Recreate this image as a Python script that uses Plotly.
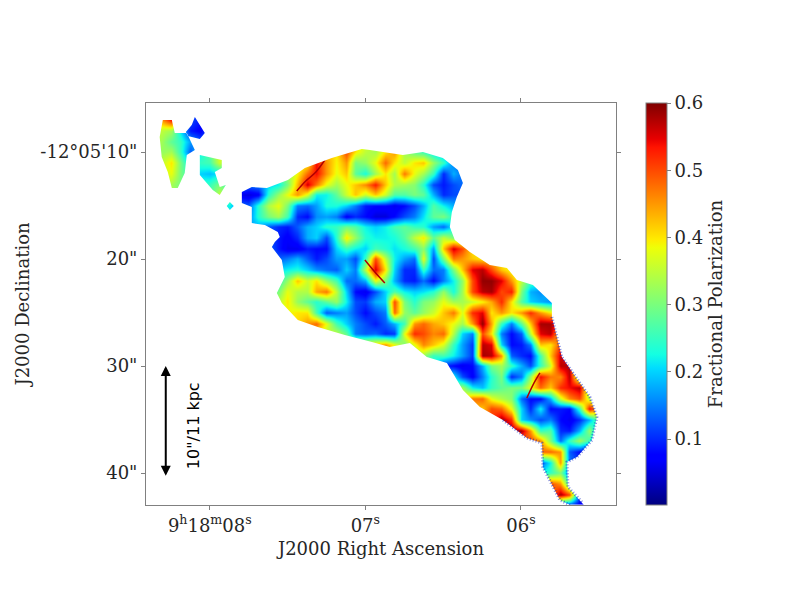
import numpy as np
import plotly.graph_objects as go

N = None

# fractional polarization in hundredths on a 0.0625s x 1" grid
ra_sec = [8.3125 - 0.0625 * i for i in range(46)]
dec_arcsec = list(range(7, 44))

row_start = [0, 0, 0, 0, 0, 0, 0, 1, 6, 9, 11, 12, 11, 12, 12, 12, 12, 13, 14, 15, 17, 19,
             26, 29, 30, 31, 32, 33, 35, 35, 37, 39, 39, 39, 40, 41, 41]
row_values = [
    [45, 54, 30, 12, 9, 9],
    [35, 33, 21, 9, 7, 13],
    [33, 28, 25, 17, 13, 13],
    [32, 33, 25, 13, 22, 28, 38] + [N] * 11 + [40, 50, 40, 35, 33, 40, 45, 33, 28, 25, 20, 17, 13],
    [35, 40, 30, 20, 25, 26, 36] + [N] * 8 + [39, 54, 45, 39, 45, 30, 32, 38, 48, 40, 35, 40, 42, 32, 25, 15, 13],
    [36, 38, 30, N, 20, 19, 21] + [N] * 7 + [39, 48, 54, 45, 38, 42, 28, 23, 33, 40, 33, 47, 38, 33, 25, 10, 18, 14],
    [35, 33, 30, N, N, 25, 30, 25] + [N] * 3 + [20, 22, 30, 43, 56, 47, 38, 33, 38, 42, 46, 53, 42, 34, 33, 31, 24, 12, 9, 12, 14],
    [34, 30, N, N, N, 35, 30, 6, 5, 7, 24, 32, 38, 45, 37, 22, 22, 28, 36, 42, 36, 42, 36, 27, 27, 30, 28, 18, 10, 12, 12],
    [22, 22, N, 13, 24, 34, 38, 30, 15, 14, 17, 23, 23, 20, 15, 9, 8, 8, 6, 8, 12, 18, 27, 22, 18],
    [15, 24, 30, 33, 26, 10, 8, 16, 17, 15, 7, 10, 8, 5, 5, 8, 12, 15, 21, 28, 30],
    [13, 10, 9, 13, 18, 20, 24, 25, 29, 27, 22, 20, 22, 26, 28, 25, 24, 17, 14, 22, 30],
    [9, 7, 10, 18, 20, 12, 24, 40, 32, 24, 22, 22, 23, 27, 35, 40, 28, 35, 30, 30],
    [14, 9, 6, 6, 9, 8, 8, 20, 25, 22, 20, 26, 24, 21, 23, 26, 31, 17, 42, 56, 50, 40],
    [13, 15, 18, 13, 9, 12, 17, 17, 12, 25, 50, 35, 22, 17, 14, 38, 12, 30, 47, 45, 42, 40],
    [20, 22, 23, 20, 16, 14, 13, 20, 15, 35, 56, 40, 20, 10, 10, 25, 14, 15, 30, 42, 55, 57, 50, 42, 38],
    [25, 32, 42, 36, 40, 32, 26, 14, 14, 18, 38, 30, 18, 10, 9, 14, 8, 15, 22, 32, 50, 59, 59, 55, 45, 35],
    [30, 38, 34, 34, 44, 47, 35, 20, 8, 6, 12, 20, 27, 22, 20, 21, 24, 32, 23, 33, 50, 57, 58, 50, 53, 30, 18, 16],
    [40, 32, 28, 24, 28, 32, 22, 12, 11, 18, 20, 50, 30, 24, 30, 32, 38, 33, 33, 36, 39, 44, 52, 40, 27, 20, 18, 16],
    [40, 40, 26, 13, 15, 17, 12, 8, 12, 15, 48, 32, 28, 32, 36, 42, 47, 37, 52, 55, 40, 45, 40, 45, 52, 45, 40],
    [45, 48, 38, 26, 20, 15, 12, 9, 13, 18, 26, 45, 48, 44, 42, 38, 33, 45, 59, 44, 25, 15, 28, 42, 58, 58, 50],
    [35, 35, 28, 15, 13, 14, 10, 11, 38, 52, 50, 46, 48, 34, 20, 15, 50, 40, 15, 8, 13, 35, 55, 57, 40],
    [35, 38, 40, 42, 45, 38, 30, 38, 46, 42, 37, 25, 17, 11, 57, 55, 20, 8, 9, 15, 42, 40, 50],
    [33, 32, 25, 26, 22, 17, 11, 58, 57, 45, 13, 10, 8, 26, 42, 56, 50],
    [10, 8, 6, 8, 18, 30, 33, 25, 18, 12, 25, 36, 57, 57, 12],
    [22, 12, 7, 15, 24, 30, 10, 15, 32, 54, 47, 46, 57, 30, 10],
    [33, 22, 19, 25, 28, 30, 30, 38, 48, 42, 52, 54, 57, 30],
    [47, 48, 38, 34, 31, 14, 8, 8, 18, 36, 46, 50, 35, 18],
    [42, 50, 48, 38, 20, 10, 22, 8, 9, 8, 25, 54, 45],
    [58, 52, 20, 16, 12, 15, 8, 6, 10, 18, 30],
    [55, 58, 58, 45, 25, 27, 10, 9, 18, 32, 15],
    [45, 50, 45, 30, 14, 25, 33, 25, 8],
    [48, 48, 45, 13, 8, 6],
    [12, 22, 45, 15],
    [22, 25, 30, 14],
    [50, 45, 25],
    [58, 50, 12],
    [10, 8, 6, 6],
]

# outline of the emission, clockwise on the sky picture
body_ra = [7.730, 7.633, 7.498, 7.389, 7.216, 7.023, 6.971, 6.759, 6.630, 6.502, 6.405, 6.373, 6.412,
           6.444, 6.457, 6.425, 6.328, 6.200, 6.090, 6.026, 5.923, 5.801, 5.801, 5.769, 5.737, 5.666,
           5.557, 5.512, 5.544, 5.640, 5.704, 5.698, 5.602, 5.595, 5.685, 5.750, 5.859, 5.865, 5.962,
           6.116, 6.264, 6.373, 6.476, 6.605, 6.714, 6.843, 6.958, 7.132, 7.306, 7.434, 7.537, 7.569,
           7.518, 7.537, 7.601, 7.582, 7.550, 7.563, 7.646, 7.730, 7.730, 7.794, 7.794]
body_dec = [13.27, 13.36, 12.62, 11.50, 10.56, 9.72, 9.81, 10.28, 10.00, 10.56, 11.68, 12.90, 14.21,
            15.61, 17.01, 18.22, 19.35, 20.56, 20.84, 21.96, 22.43, 24.11, 25.42, 27.29, 29.16, 30.65,
            32.90, 34.77, 36.92, 38.51, 38.97, 41.31, 42.80, 43.00, 42.99, 42.52, 39.44, 37.20, 36.73,
            35.05, 33.83, 32.24, 29.72, 29.16, 27.85, 28.22, 27.76, 27.10, 26.36, 25.70, 24.11, 23.18,
            21.68, 20.09, 18.88, 18.41, 17.94, 17.48, 16.82, 16.64, 15.14, 14.77, 13.74]
isle_a_ra = [8.302, 8.244, 8.225, 8.148, 8.096, 8.148, 8.161, 8.206, 8.244, 8.270, 8.309, 8.322]
isle_a_dec = [7.01, 7.01, 8.22, 8.22, 9.81, 10.28, 11.96, 13.36, 13.36, 11.87, 10.47, 8.60]
isle_b_ra = [8.096, 8.064, 8.032, 8.064, 8.141, 8.154, 8.116]
isle_b_dec = [6.73, 7.48, 8.22, 8.79, 8.50, 8.13, 7.48]
isle_c_ra = [8.064, 8.000, 7.923, 7.923, 7.968, 7.936, 7.897, 7.936, 7.981, 8.064]
isle_c_dec = [10.28, 10.47, 10.75, 11.50, 11.87, 13.27, 13.08, 14.02, 13.55, 12.15]
isle_d_ra = [7.891, 7.871, 7.846, 7.871]
isle_d_dec = [15.05, 14.67, 15.05, 15.42]

# noisy blue fringe on the south-west edge and round the tail
fringe_ra = [5.801, 5.769, 5.737, 5.666, 5.557, 5.512, 5.544, 5.640, 5.704, 5.698, 5.602]
fringe_dec = [25.42, 27.29, 29.16, 30.65, 32.90, 34.77, 36.92, 38.51, 38.97, 41.31, 42.80]
fringe2_ra = [5.685, 5.750, 5.859, 5.865, 5.962, 6.116]
fringe2_dec = [42.99, 42.52, 39.44, 37.20, 36.73, 35.05]

# thin dark red filaments the grid is too coarse to hold
filament1_ra = [7.441, 7.383, 7.318, 7.261]
filament1_dec = [13.64, 12.71, 11.87, 10.75]
filament2_ra = [7.003, 6.939, 6.875]
filament2_dec = [20.09, 21.21, 22.24]
filament3_ra = [5.962, 5.923, 5.878]
filament3_dec = [32.99, 31.78, 30.65]

x_ticks = [8, 7, 6]
x_labels = ["9<sup>h</sup>18<sup>m</sup>08<sup>s</sup>", "07<sup>s</sup>", "06<sup>s</sup>"]
y_ticks = [10, 20, 30, 40]
y_labels = ["-12°05'10\"", "20\"", "30\"", "40\""]
cbar_ticks = [0.1, 0.2, 0.3, 0.4, 0.5, 0.6]

jet = [
    [0, "rgb(0,0,127)"], [0.11, "rgb(0,0,255)"], [0.125, "rgb(0,0,255)"], [0.34, "rgb(0,220,255)"],
    [0.375, "rgb(20,255,226)"], [0.64, "rgb(238,255,8)"], [0.66, "rgb(255,236,0)"],
    [0.89, "rgb(255,19,0)"], [0.91, "rgb(232,0,0)"], [1, "rgb(127,0,0)"],
]

ra_range = [8.41, 5.389]
dec_range = [42.99, 5.42]
font_family = "DejaVu Serif"
text_color = "#262626"
axis_color = "#808080"

z = []
for start, vals in zip(row_start, row_values):
    row = [N] * start + vals
    row = row + [N] * (len(ra_sec) - len(row))
    z.append([v / 100 if v is not None else None for v in row])

fig = go.Figure()
# connectgaps only matters under the white mask, it stops the edge cells being cut off
fig.add_trace(go.Heatmap(
    x=ra_sec, y=dec_arcsec, z=z, connectgaps=True,
    colorscale=jet, zmin=0.002, zmax=0.6, zsmooth="best", hoverinfo="skip",
    colorbar=dict(
        x=1.0638, xanchor="left", xpad=0, y=1, yanchor="top", ypad=0, len=1,
        thickness=21, thicknessmode="pixels",
        tickvals=cbar_ticks, ticktext=["%.1f" % t for t in cbar_ticks],
        ticks="outside", ticklen=4, tickcolor=axis_color, outlinecolor=axis_color, outlinewidth=1,
        tickfont=dict(family=font_family, size=18, color=text_color),
        title=dict(text="Fractional Polarization", side="right",
                   font=dict(family=font_family, size=18, color=text_color)),
    ),
))

for fx, fy in [(filament1_ra, filament1_dec), (filament2_ra, filament2_dec), (filament3_ra, filament3_dec)]:
    fig.add_trace(go.Scatter(x=fx, y=fy, mode="lines", hoverinfo="skip", showlegend=False,
                             line=dict(color="rgb(175,0,0)", width=1.5, shape="spline")))

# white everywhere outside the outline, the polygons punch holes in it
mask_x = [ra_range[0], ra_range[0], ra_range[1], ra_range[1], ra_range[0]]
mask_y = [dec_range[1], dec_range[0], dec_range[0], dec_range[1], dec_range[1]]
for px, py in [(body_ra, body_dec), (isle_a_ra, isle_a_dec), (isle_b_ra, isle_b_dec),
               (isle_c_ra, isle_c_dec), (isle_d_ra, isle_d_dec)]:
    mask_x += [N] + px + [px[0]]
    mask_y += [N] + py + [py[0]]
fig.add_trace(go.Scatter(x=mask_x, y=mask_y, mode="lines", fill="toself", fillcolor="white",
                         line=dict(width=0), hoverinfo="skip", showlegend=False))

for fx, fy in [(fringe_ra, fringe_dec), (fringe2_ra, fringe2_dec)]:
    fig.add_trace(go.Scatter(x=fx, y=fy, mode="lines", hoverinfo="skip", showlegend=False, opacity=0.55,
                             line=dict(color="rgb(20,40,200)", width=3, dash="1px,2px")))

fig.add_annotation(x=8.283, y=30, ax=8.283, ay=40.4, xref="x", yref="y", axref="x", ayref="y",
                   text="", showarrow=True, arrowside="end+start", arrowhead=2, arrowsize=1,
                   arrowwidth=2, arrowcolor="black")
fig.add_annotation(x=8.10, y=35.6, xref="x", yref="y", text="10\"/11 kpc", showarrow=False, textangle=-90,
                   font=dict(family="DejaVu Sans", size=16, color="black"))

fig.update_xaxes(range=ra_range, tickvals=x_ticks, ticktext=x_labels, ticks="outside", ticklen=4,
                 tickcolor=axis_color, showgrid=False, zeroline=False, mirror="ticks", showline=True,
                 linecolor=axis_color, linewidth=1,
                 tickfont=dict(family=font_family, size=18, color=text_color),
                 title=dict(text="J2000 Right Ascension", standoff=7,
                            font=dict(family=font_family, size=18, color=text_color)))
fig.update_yaxes(range=dec_range, tickvals=y_ticks, ticktext=y_labels, ticks="outside", ticklen=4,
                 tickcolor=axis_color, showgrid=False, zeroline=False, mirror="ticks", showline=True,
                 linecolor=axis_color, linewidth=1,
                 tickfont=dict(family=font_family, size=18, color=text_color),
                 title=dict(text="J2000 Declination", standoff=6,
                            font=dict(family=font_family, size=18, color=text_color)))
# the page puts an 8px margin round the figure
fig.update_layout(width=781, height=584, margin=dict(l=138, r=173, t=95, b=87),
                  paper_bgcolor="white", plot_bgcolor="white", showlegend=False)
fig.write_html("out.html")
